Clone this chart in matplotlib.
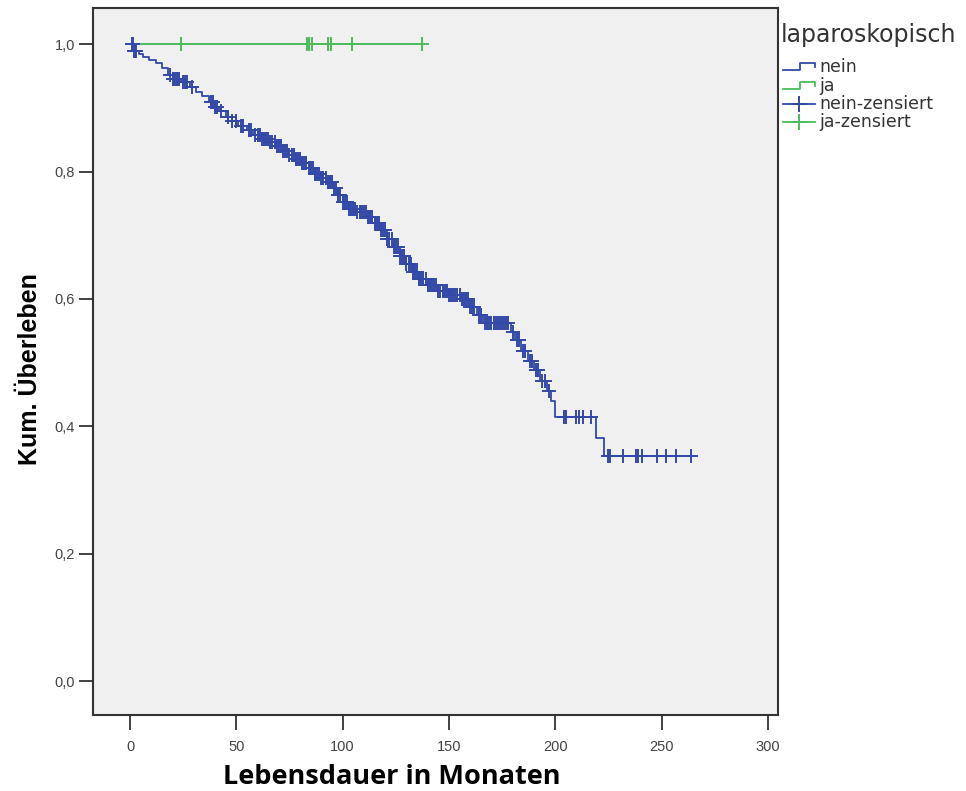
import numpy as np
import matplotlib
matplotlib.use("Agg")
import matplotlib.pyplot as plt
from matplotlib.lines import Line2D

# Kaplan-Meier: laparoskopisch = nein (event times and survival after each step)
nein_t = [0, 2, 4, 6, 9, 12, 15, 18, 20, 24, 28, 31, 34, 37, 40, 42, 45, 48, 51, 55,
          58, 62, 66, 69, 72, 75, 78, 81, 84, 87, 90, 93, 96, 98, 100, 103, 107, 112,
          115, 118, 121, 124, 127, 130, 133, 136, 140, 145, 150, 156, 160, 163, 166,
          179, 181, 184, 187, 190, 193, 196, 198, 200, 219, 223]
nein_s = [1.0, 0.99, 0.985, 0.98, 0.975, 0.97, 0.963, 0.952, 0.945, 0.94, 0.933, 0.925,
          0.918, 0.91, 0.902, 0.895, 0.886, 0.879, 0.872, 0.865, 0.858, 0.852, 0.846,
          0.84, 0.833, 0.826, 0.82, 0.813, 0.805, 0.797, 0.79, 0.783, 0.775, 0.763,
          0.752, 0.742, 0.736, 0.729, 0.72, 0.708, 0.695, 0.682, 0.668, 0.655, 0.643,
          0.632, 0.622, 0.613, 0.607, 0.6, 0.588, 0.575, 0.562, 0.548, 0.535, 0.518,
          0.503, 0.488, 0.472, 0.456, 0.44, 0.415, 0.382, 0.353]
nein_cens = [1, 1.5, 2, 2.5, 3, 19, 20, 21, 22, 23, 25, 26, 27, 29, 38, 39, 40, 41, 43,
             46, 48, 50, 52, 53, 56, 57, 59, 60, 61, 62, 63, 64, 65, 66, 67, 68, 69, 70,
             71, 72, 73, 74, 75, 76, 77, 78, 79, 80, 81, 82, 83, 84, 85, 86, 87, 88, 89,
             90, 91, 92, 93, 94, 95, 96, 97, 98, 99, 100, 101, 102, 103, 104, 105, 106,
             107, 108, 109, 110, 111, 112, 113, 114, 115, 116, 117, 118, 119, 120, 121,
             122, 123, 124, 125, 126, 127, 128, 129, 130, 131, 132, 133, 134, 135, 136,
             137, 138, 139, 140, 141, 142, 143, 144, 145, 146, 147, 148, 149, 150, 151,
             152, 153, 154, 155, 156, 157, 158, 159, 160, 161, 162, 164, 165, 167, 168,
             169, 170, 171, 172, 173, 174, 175, 176, 177, 178, 180, 182, 183, 185, 186,
             188, 189, 191, 192, 194, 195, 197, 204, 205, 210, 211, 213, 217, 225, 226,
             232, 238, 239, 241, 248, 252, 257, 264]

# laparoskopisch = ja (no events)
ja_t = [0]
ja_s = [1.0]
ja_cens = [24, 83.3, 84.2, 85.6, 93.1, 94.5, 104.4, 137.3]

legend_title = 'laparoskopisch'
legend_labels = ['nein', 'ja', 'nein-zensiert', 'ja-zensiert']

BLUE = '#3348a8'
GREEN = '#4cbb5a'
W, H = 966, 791


def surv_at(times, surv, t):
    idx = np.searchsorted(times, t, side='right') - 1
    return np.array(surv)[idx]


def fx(px):
    return px / W


def fy(py):
    return 1 - py / H


plt.rcParams['font.family'] = ['Liberation Sans', 'DejaVu Sans']

fig = plt.figure(figsize=(W / 100, H / 100), dpi=100)
ax = fig.add_axes([0.0963, 0.096, 0.7091, 0.8935])
ax.set_facecolor('#f0f0f0')

# step curves, extended to the last censored time
nt = list(nein_t) + [max(nein_cens)]
ns = list(nein_s) + [nein_s[-1]]
ax.step(nt, ns, where='post', color=BLUE, lw=1.3)
jt = list(ja_t) + [max(ja_cens)]
js = list(ja_s) + [ja_s[-1]]
ax.step(jt, js, where='post', color=GREEN, lw=1.4)

ax.plot(nein_cens, surv_at(nein_t, nein_s, nein_cens), ls='none', marker='+',
        ms=10, mew=1.4, color=BLUE)
ax.plot(ja_cens, surv_at(ja_t, ja_s, ja_cens), ls='none', marker='+',
        ms=10, mew=1.4, color=GREEN)

ax.set_xlim(-17.4, 304.8)
ax.set_ylim(-0.0534, 1.0565)
ax.set_xticks([0, 50, 100, 150, 200, 250, 300])
ax.set_yticks([0.0, 0.2, 0.4, 0.6, 0.8, 1.0])
ax.set_yticklabels(['0,0', '0,2', '0,4', '0,6', '0,8', '1,0'])
ax.tick_params(direction='out', width=1.3, color='#333333',
               labelsize=10.5, labelcolor='#444444')
ax.tick_params(axis='x', length=11, pad=7)
ax.tick_params(axis='y', length=10, pad=3)
for sp in ax.spines.values():
    sp.set_color('#333333')
    sp.set_linewidth(1.5)

ax.set_ylabel('Kum. Überleben', fontsize=18, fontweight='bold')
ax.yaxis.set_label_coords(-0.075, 0.49)
ax.set_xlabel('Lebensdauer in Monaten', fontsize=19.5, fontweight='bold',
              family=['Open Sans', 'DejaVu Sans'], va='center')
ax.xaxis.set_label_coords(0.4365, -0.088)

# legend drawn by hand to the right of the axes
fig.text(fx(781), fy(35), legend_title, fontsize=17, family=['DejaVu Sans'],
         color='#333333', va='center', ha='left')
rows_y = [67, 86, 104, 122]
colors = [BLUE, GREEN, BLUE, GREEN]
for i, (lab, col, ry) in enumerate(zip(legend_labels, colors, rows_y)):
    if i < 2:
        xs = [fx(783), fx(800), fx(800), fx(815), fx(815)]
        ys = [fy(ry + 3), fy(ry + 3), fy(ry - 4), fy(ry - 4), fy(ry)]
        fig.add_artist(Line2D(xs, ys, color=col, lw=1.3, transform=fig.transFigure))
    else:
        fig.add_artist(Line2D([fx(783), fx(815)], [fy(ry), fy(ry)], color=col, lw=1.3,
                              transform=fig.transFigure))
        fig.add_artist(Line2D([fx(799)], [fy(ry)], color=col, marker='+', ms=11, mew=1.4,
                              ls='none', transform=fig.transFigure))
    fig.text(fx(819), fy(ry), lab, fontsize=12.5, family=['DejaVu Sans'],
             color='#333333', va='center', ha='left')

fig.savefig('out.png', dpi=100, facecolor='white')
